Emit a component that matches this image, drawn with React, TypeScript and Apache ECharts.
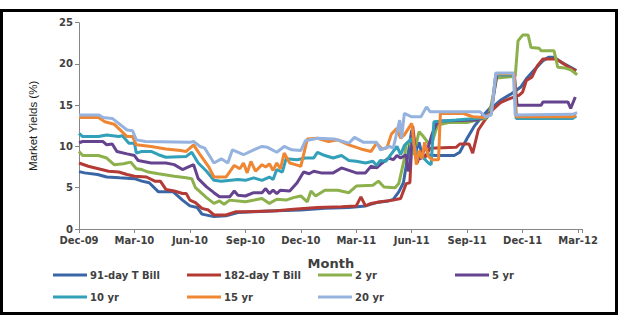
import { useEffect, useRef } from 'react';
import * as echarts from 'echarts';

const xLabels = ['Dec-09', 'Mar-10', 'Jun-10', 'Sep-10', 'Dec-10', 'Mar-11', 'Jun-11', 'Sep-11', 'Dec-11', 'Mar-12'];
const seriesNames = ['91-day T Bill', '182-day T Bill', '2 yr', '5 yr', '10 yr', '15 yr', '20 yr'];
const seriesColors = ['#3A66A6', '#B33A35', '#8CB04C', '#65438F', '#31A0B8', '#EE8633', '#95B3DE'];

// [month index from Dec-09, yield %]
const tbill91 = [[0,6.95],[0.3,6.8],[1.0,6.6],[1.5,6.3],[2.2,6.2],[3.0,6.1],[3.4,5.8],[3.8,5.6],[4.3,4.5],[5.1,4.5],[5.6,3.5],[6.0,2.8],[6.4,2.6],[6.65,1.8],[7.3,1.5],[7.95,1.6],[8.6,2.0],[9.4,2.1],[10.7,2.2],[12.0,2.3],[13.3,2.5],[14.6,2.6],[15.5,2.8],[16.1,3.2],[16.75,3.4],[17.0,3.6],[17.3,4.5],[17.55,5.6],[17.8,9.0],[18.0,12.0],[18.15,9.0],[18.4,10.5],[18.6,8.6],[18.8,9.0],[19.3,8.9],[20.3,8.9],[20.6,9.3],[21.0,11.0],[21.4,12.5],[21.8,13.6],[22.3,14.8],[22.5,15.0],[22.8,15.6],[23.4,16.4],[23.9,17.2],[24.2,18.2],[24.6,19.2],[25.1,20.4],[25.4,20.8],[25.7,20.8],[26.1,20.2],[26.6,19.6],[26.9,19.2]];
const tbill182 = [[0,8.0],[0.5,7.6],[1.05,7.3],[1.6,7.0],[2.15,6.9],[2.6,6.6],[3.0,6.4],[3.65,6.3],[4.1,5.8],[4.4,5.8],[4.7,4.8],[5.15,4.6],[5.6,4.3],[5.8,4.3],[6.0,3.5],[6.3,3.2],[6.65,2.5],[7.0,2.3],[7.3,1.7],[7.95,1.7],[8.5,2.1],[9.0,2.1],[10.7,2.2],[11.6,2.4],[12.9,2.6],[14.2,2.7],[15.0,2.8],[15.25,3.9],[15.5,2.8],[15.8,3.1],[16.3,3.3],[17.0,3.5],[17.4,3.7],[17.7,5.5],[17.9,5.6],[18.05,12.5],[18.3,8.0],[18.5,9.5],[18.7,8.6],[19.0,9.8],[20.4,9.9],[20.6,10.3],[21.1,10.3],[21.3,9.2],[21.6,12.0],[21.9,13.0],[22.4,14.5],[22.8,15.3],[23.3,15.8],[23.8,16.2],[24.0,16.6],[24.2,18.0],[24.5,18.4],[24.8,19.8],[25.1,20.6],[25.8,20.6],[26.1,20.2],[26.5,19.6],[26.9,19.2]];
const yr2 = [[0,9.4],[0.2,8.9],[1.05,8.9],[1.5,8.6],[1.9,7.8],[2.4,7.9],[2.8,8.1],[3.1,7.3],[3.4,7.2],[3.75,6.9],[4.3,6.7],[5.15,6.4],[5.8,6.2],[6.1,6.1],[6.3,5.0],[6.9,3.8],[7.3,3.1],[7.6,3.4],[7.85,3.0],[8.15,3.5],[9.0,3.3],[9.9,3.7],[10.3,3.1],[10.7,3.6],[11.2,3.5],[11.6,3.8],[12.0,4.0],[12.35,3.3],[12.55,4.6],[12.8,4.0],[13.3,4.7],[14.0,4.7],[14.6,4.4],[15.0,5.2],[15.9,5.3],[16.2,5.8],[16.5,5.1],[17.1,5.0],[17.3,5.5],[17.6,8.5],[17.7,10.4],[17.9,10.4],[18.1,9.0],[18.4,11.8],[18.6,11.3],[18.9,10.4],[19.1,10.5],[19.4,12.6],[20.0,12.9],[21.0,12.9],[21.5,13.2],[22.0,13.4],[22.2,14.0],[22.6,18.3],[23.6,18.5],[23.75,22.8],[24.0,23.5],[24.3,23.5],[24.45,22.0],[24.9,21.9],[25.0,21.6],[25.7,21.6],[25.9,19.6],[26.3,19.5],[26.6,19.3],[26.95,18.7]];
const yr5 = [[0,10.45],[0.2,10.6],[1.3,10.6],[1.5,10.2],[1.8,10.3],[2.05,9.4],[2.6,9.1],[3.0,8.9],[3.2,8.3],[3.9,8.0],[4.7,8.0],[5.15,7.8],[5.6,7.2],[5.8,7.4],[6.2,7.8],[6.45,6.1],[6.9,5.1],[7.3,4.4],[7.6,3.9],[8.15,3.9],[8.4,4.6],[8.6,4.1],[9.0,4.0],[9.45,4.4],[9.9,4.4],[10.1,4.9],[10.3,4.3],[10.5,4.7],[10.7,4.3],[10.9,4.7],[11.4,4.6],[11.8,5.6],[12.15,6.9],[12.45,6.7],[12.7,7.0],[13.1,6.8],[13.75,6.8],[14.2,7.4],[14.6,7.1],[15.0,6.8],[15.5,6.8],[15.8,7.6],[16.1,7.4],[16.4,8.0],[16.75,8.6],[17.0,8.4],[17.2,8.9],[17.4,8.6],[17.7,9.0],[17.8,7.0],[17.9,7.5],[18.05,11.5],[18.3,8.7],[18.5,8.5],[18.65,9.5],[18.9,10.0],[19.1,11.5],[19.35,12.8],[19.6,13.1],[21.5,13.2],[22.0,13.6],[22.3,14.2],[22.6,18.7],[23.55,18.7],[23.7,15.0],[25.0,15.0],[25.1,15.4],[26.45,15.4],[26.6,14.6],[26.85,16.0]];
const yr10 = [[0,11.6],[0.2,11.2],[1.05,11.2],[1.5,11.4],[2.15,11.2],[2.35,11.3],[2.7,10.4],[3.0,10.4],[3.1,9.2],[3.4,9.4],[3.9,9.4],[4.3,9.0],[4.7,8.7],[5.8,8.8],[6.1,9.3],[6.45,8.0],[6.9,7.0],[7.3,5.9],[7.7,5.8],[8.6,6.0],[9.0,5.9],[9.45,6.2],[9.9,5.9],[10.3,6.3],[10.5,6.0],[10.7,7.2],[11.0,6.9],[11.2,8.5],[11.8,8.4],[12.25,8.6],[12.7,8.6],[12.9,9.3],[13.3,8.9],[13.75,8.6],[14.2,8.9],[14.6,8.3],[15.0,8.2],[15.5,8.0],[15.9,8.2],[16.1,7.7],[16.3,8.3],[16.6,8.2],[17.0,9.4],[17.2,10.0],[17.4,9.0],[17.6,10.1],[18.0,11.0],[18.3,9.0],[18.6,8.7],[18.9,8.0],[19.05,7.8],[19.2,13.0],[20.4,13.2],[21.5,13.4],[22.0,13.5],[22.3,14.0],[22.55,18.7],[23.55,18.7],[23.65,13.4],[26.7,13.4],[26.9,13.7]];
const yr15 = [[0,13.5],[1.05,13.5],[1.4,13.0],[1.9,12.7],[2.6,11.2],[2.9,11.2],[3.1,10.2],[3.9,10.0],[4.7,9.7],[5.5,9.5],[5.8,9.4],[6.2,10.2],[6.55,9.0],[7.0,7.6],[7.3,6.3],[7.95,6.3],[8.4,7.7],[8.7,7.3],[8.9,8.0],[9.1,6.8],[9.3,8.2],[9.55,7.0],[9.9,7.8],[10.1,7.5],[10.3,7.9],[10.5,7.1],[10.7,8.0],[10.9,7.3],[11.1,9.2],[11.4,8.0],[11.7,7.8],[12.0,7.6],[12.35,10.9],[12.9,11.0],[13.5,10.6],[14.0,10.8],[14.6,10.2],[15.25,9.7],[15.8,9.4],[16.1,10.4],[16.4,9.7],[16.65,9.8],[16.9,11.5],[17.2,12.2],[17.4,11.0],[17.6,11.4],[18.0,12.8],[18.25,7.8],[18.4,9.5],[18.55,8.5],[18.7,10.5],[18.9,8.8],[19.1,8.4],[19.45,8.4],[19.55,14.0],[20.8,14.0],[21.3,13.6],[21.9,13.5],[22.3,14.0],[22.55,18.8],[23.55,18.8],[23.65,13.6],[26.7,13.6],[26.9,13.8]];
const yr20 = [[0,13.8],[1.1,13.8],[1.3,13.5],[1.8,13.4],[2.6,12.0],[2.9,11.9],[3.1,10.8],[3.6,10.6],[6.0,10.5],[6.2,10.6],[6.55,10.0],[6.8,9.8],[7.3,8.0],[7.7,8.5],[8.05,8.0],[8.3,9.6],[8.9,9.0],[9.45,9.6],[9.9,10.0],[10.2,9.9],[10.7,9.3],[11.1,10.0],[11.5,9.6],[12.0,9.5],[12.25,10.7],[12.9,11.0],[13.8,10.9],[14.6,10.4],[14.9,11.1],[15.4,10.5],[16.1,10.5],[16.3,9.6],[16.8,10.0],[17.0,9.8],[17.35,13.2],[17.45,11.0],[17.6,14.0],[18.0,13.6],[18.5,13.6],[18.8,14.8],[19.0,14.2],[21.7,14.2],[22.0,13.6],[22.3,13.8],[22.55,18.9],[23.5,18.9],[23.6,13.8],[26.7,13.9],[26.95,14.1]];

const seriesData = [tbill91, tbill182, yr2, yr5, yr10, yr15, yr20];
const legendPos = [[53, 269], [187, 269], [318, 269], [455, 269], [53, 291], [187, 291], [318, 291]];

export default function App() {
  const ref = useRef<HTMLDivElement>(null);
  useEffect(() => {
    const chart = echarts.init(ref.current!, null, { renderer: 'svg' });
    const labelStyle = { color: '#404040', fontFamily: 'DejaVu Sans', fontWeight: 'bold' as const, fontSize: 10 };
    chart.setOption({
      animation: false,
      backgroundColor: '#ffffff',
      grid: { left: 79, top: 22.7, width: 503.7, height: 206.3, containLabel: false },
      xAxis: {
        type: 'value',
        min: 0,
        max: 27.25,
        interval: 3,
        name: 'Month',
        nameLocation: 'middle',
        nameGap: 28,
        nameTextStyle: { color: '#404040', fontFamily: 'DejaVu Sans', fontWeight: 'bold', fontSize: 13 },
        axisLine: { show: true, lineStyle: { color: '#868686', width: 1 } },
        axisTick: { show: true, inside: false, length: 4, lineStyle: { color: '#868686' } },
        splitLine: { show: false },
        axisLabel: {
          ...labelStyle,
          margin: 6,
          formatter: (v: number) => {
            const i = v / 3;
            return Number.isInteger(i) && xLabels[i] ? xLabels[i] : '';
          },
        },
      },
      yAxis: {
        type: 'value',
        min: 0,
        max: 25,
        interval: 5,
        name: 'Market Yields (%)',
        nameLocation: 'middle',
        nameGap: 40,
        nameRotate: 90,
        nameTextStyle: { color: '#1a1a1a', fontFamily: 'Liberation Sans', fontSize: 11.5 },
        axisLine: { show: true, lineStyle: { color: '#868686', width: 1 } },
        axisTick: { show: true, inside: false, length: 4, lineStyle: { color: '#868686' } },
        splitLine: { show: false },
        axisLabel: { ...labelStyle, margin: 6 },
      },
      legend: seriesNames.map((n, i) => ({
        data: [n],
        left: legendPos[i][0],
        top: legendPos[i][1],
        icon: 'rect',
        itemWidth: 34,
        itemHeight: 3,
        padding: 0,
        textStyle: { ...labelStyle, lineHeight: 12, padding: [0, 0, 0, -2] },
      })),
      graphic: [
        {
          type: 'rect',
          shape: { x: 1.5, y: 10.5, width: 615, height: 303 },
          style: { fill: 'none', stroke: '#000000', lineWidth: 3 },
          silent: true,
        },
      ],
      series: seriesNames.map((n, i) => ({
        name: n,
        type: 'line',
        data: seriesData[i],
        showSymbol: false,
        symbol: 'none',
        color: seriesColors[i],
        lineStyle: { width: 3, color: seriesColors[i] },
        itemStyle: { color: seriesColors[i] },
      })),
    });
    return () => chart.dispose();
  }, []);
  return <div ref={ref} style={{ position: 'fixed', left: 0, top: 0, width: 621, height: 316 }} />;
}
